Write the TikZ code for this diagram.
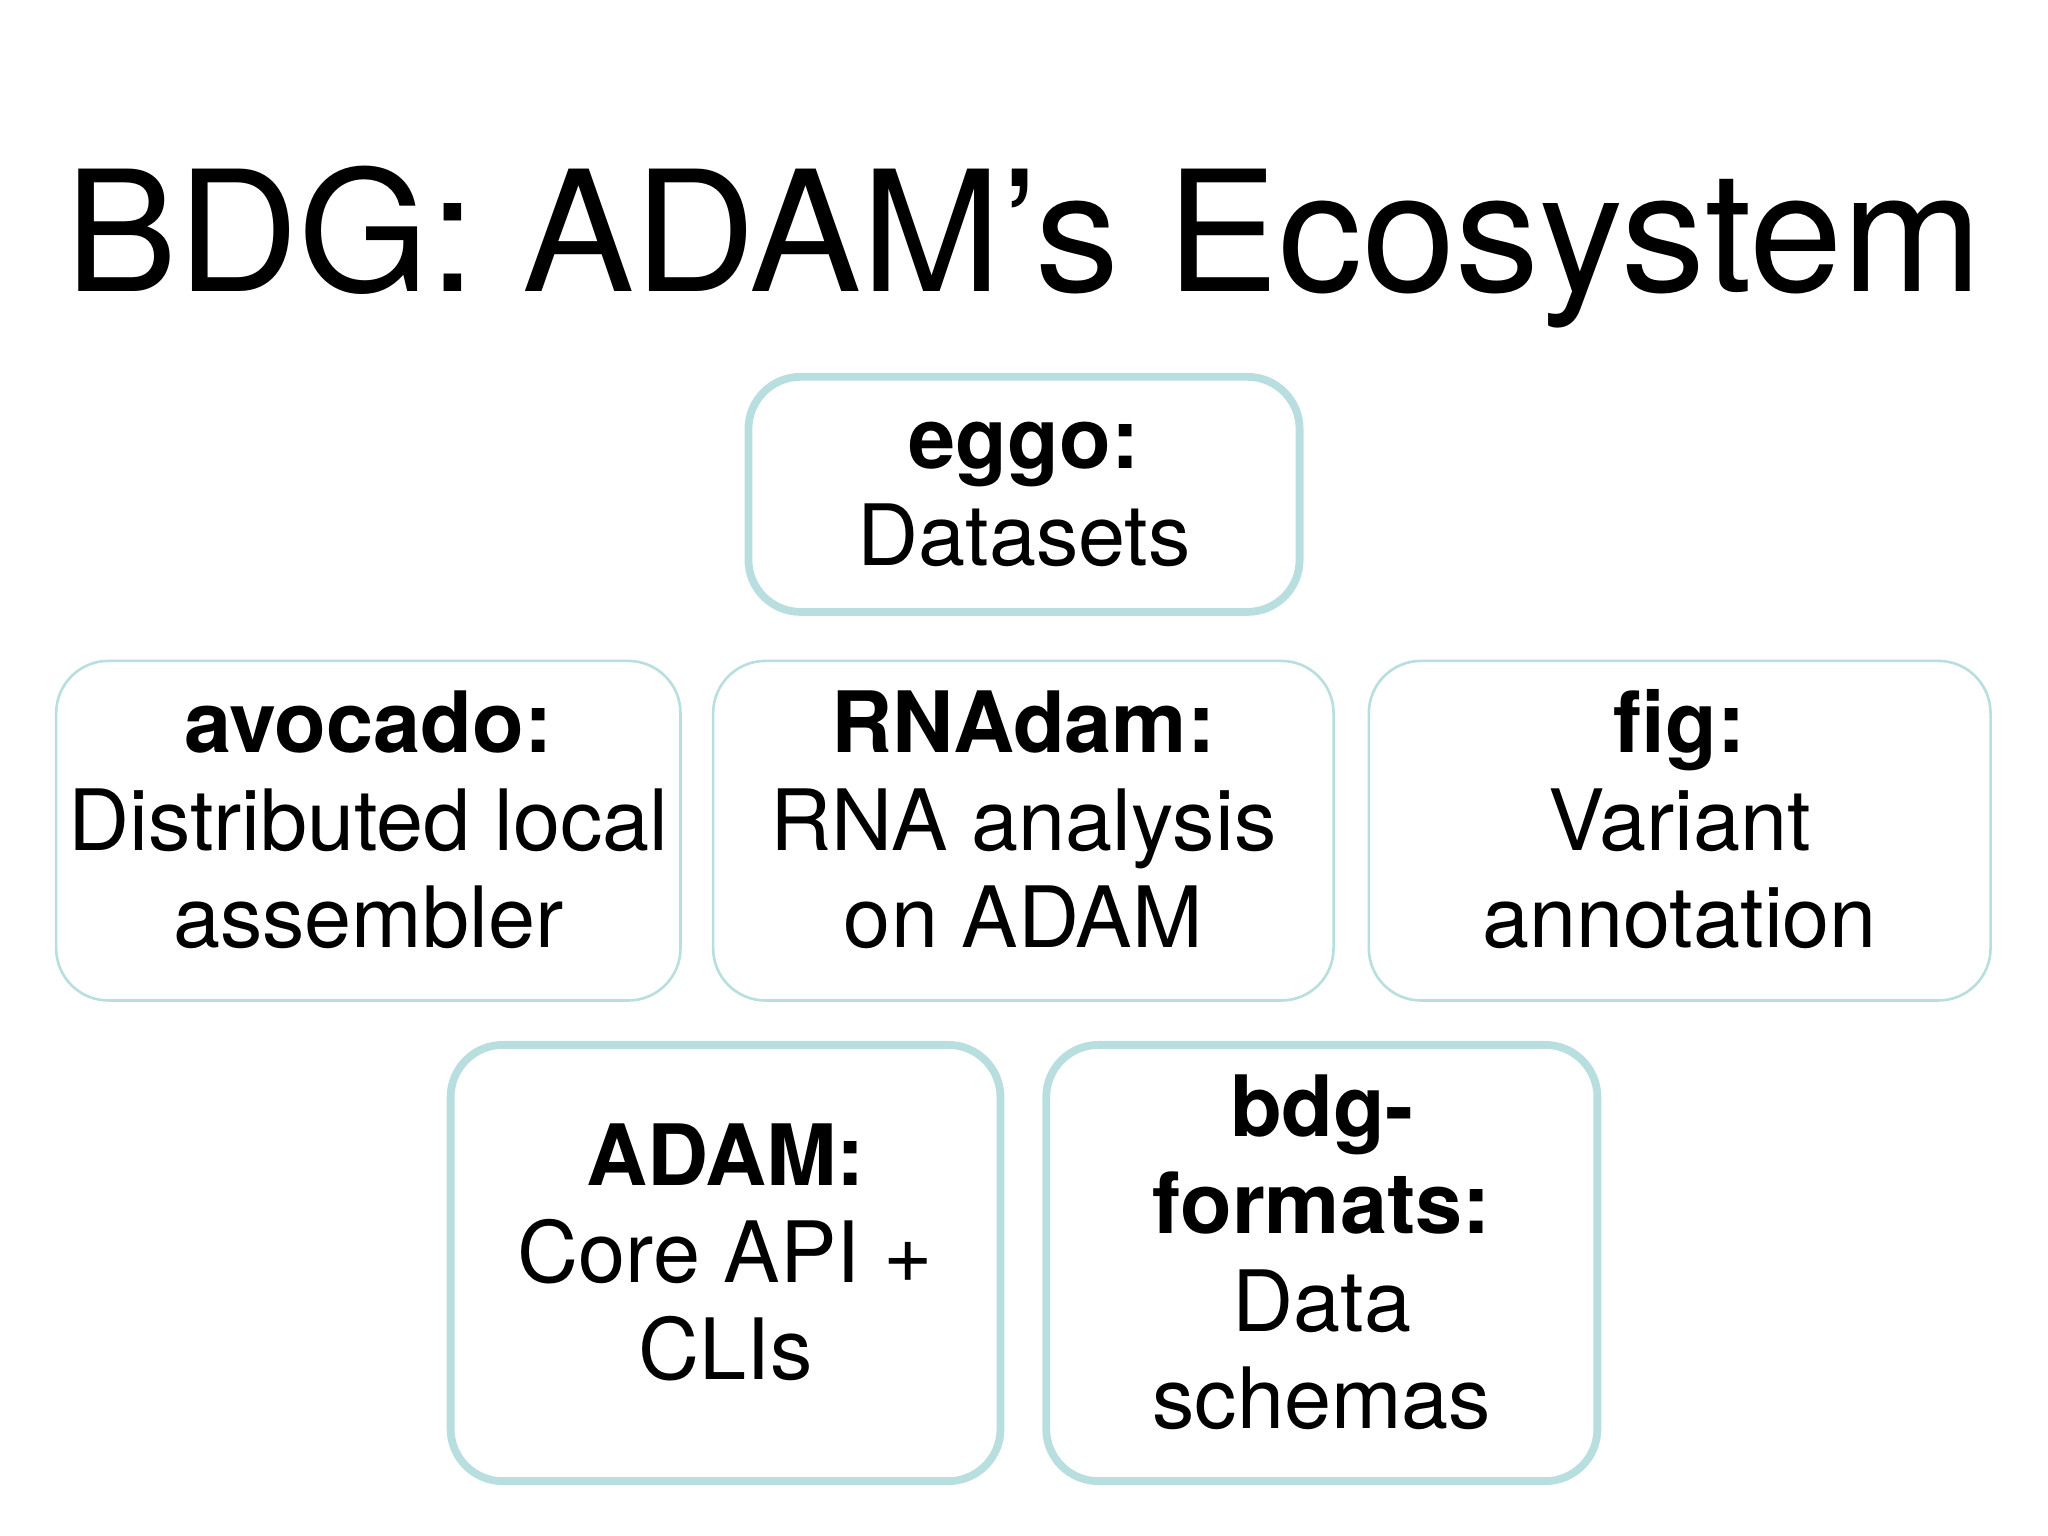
\documentclass[tikz,border=0pt]{standalone}
\usepackage{fontspec}
\setmainfont{TeX Gyre Heros}
\definecolor{bc}{HTML}{B8DEDF}
\begin{document}
\begin{tikzpicture}[x=0.5pt,y=-0.5pt,
  box/.style={draw=bc, rounded corners=20pt, align=center, font=\fontsize{32.4}{37.2}\selectfont, inner sep=0pt},
  thick box/.style={box, line width=3pt},
  thin box/.style={box, line width=1pt}]
\useasboundingbox (0,0) rectangle (1568,1176);
\node (title) at (784,189) {\fontsize{64.3}{70}\selectfont BDG: ADAM’s Ecosystem};
\node[thick box, minimum width=211pt, minimum height=90pt] (eggo) at (784,378.5) {\textbf{eggo:}\\Datasets};
\path (784,373) node[align=center, font=\fontsize{32.4}{37.2}\selectfont] {};
\node[thin box, minimum width=239pt, minimum height=130pt] (avocado) at (282,636) {\raisebox{3pt}{\begin{tabular}{@{}c@{}}\textbf{avocado:}\\Distributed local\\assembler\end{tabular}}};
\node[thin box, minimum width=237.5pt, minimum height=130pt] (rnadam) at (783.5,636) {\raisebox{3pt}{\begin{tabular}{@{}c@{}}\textbf{RNAdam:}\\RNA analysis\\on ADAM\end{tabular}}};
\node[thin box, minimum width=238pt, minimum height=130pt] (fig) at (1286,636) {\raisebox{3pt}{\begin{tabular}{@{}c@{}}\textbf{fig:}\\Variant\\annotation\end{tabular}}};
\node[thick box, minimum width=210.5pt, minimum height=167pt] (adam) at (555.5,967) {\raisebox{1pt}{\begin{tabular}{@{}c@{}}\textbf{ADAM:}\\Core API +\\CLIs\end{tabular}}};
\node[thick box, minimum width=211pt, minimum height=167pt] (bdg) at (1012,967) {\raisebox{1pt}{\begin{tabular}{@{}c@{}}\textbf{bdg-}\\\textbf{formats:}\\Data\\schemas\end{tabular}}};
\end{tikzpicture}
\end{document}
